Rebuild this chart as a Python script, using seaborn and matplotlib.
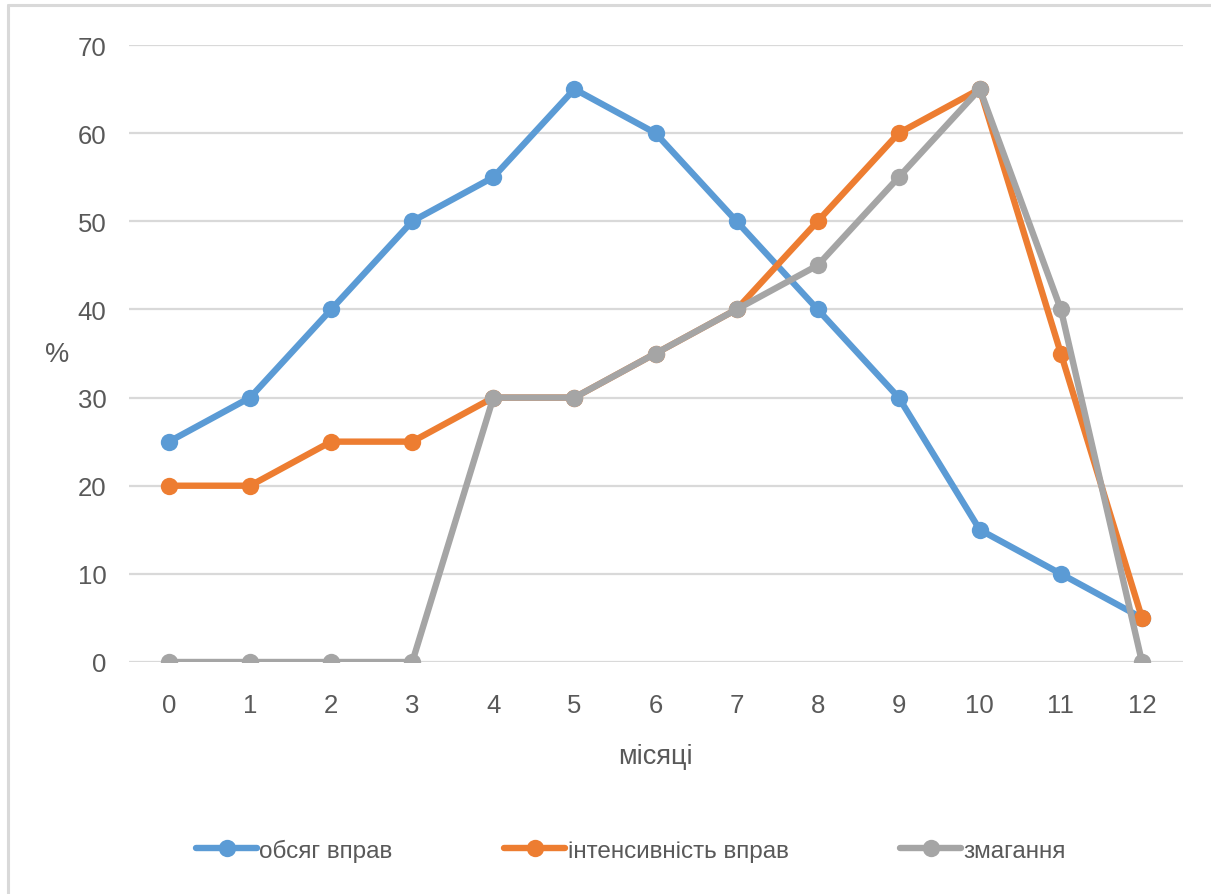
import matplotlib
matplotlib.use("Agg")
import matplotlib.pyplot as plt
from matplotlib.lines import Line2D
import seaborn as sns
import pandas as pd

months = list(range(13))
volume = [25, 30, 40, 50, 55, 65, 60, 50, 40, 30, 15, 10, 5]
intensity = [20, 20, 25, 25, 30, 30, 35, 40, 50, 60, 65, 35, 5]
competition = [0, 0, 0, 0, 30, 30, 35, 40, 45, 55, 65, 40, 0]
series_names = ["обсяг вправ", "інтенсивність вправ", "змагання"]
colors = ["#5B9BD5", "#ED7D31", "#A5A5A5"]

df = pd.concat([
    pd.DataFrame({"month": months, "value": vals, "series": name})
    for name, vals in zip(series_names, [volume, intensity, competition])
], ignore_index=True)

sns.set_theme(style="white")
plt.rcParams["font.family"] = ["Liberation Sans", "DejaVu Sans"]
text_color = "#595959"
lw, ms = 4.6, 12.5

fig = plt.figure(figsize=(12.11, 8.95), dpi=100)
ax = fig.add_axes([128.5 / 1211, 1 - 663 / 895, 1054 / 1211, 617 / 895])

sns.lineplot(data=df, x="month", y="value", hue="series", hue_order=series_names,
             palette=colors, marker="o", markersize=ms, markeredgewidth=0,
             linewidth=lw, ax=ax, legend=False, zorder=3)

ax.set_xlim(-0.5, 12.5)
ax.set_ylim(0, 70)
ax.set_xticks(months)
ax.set_xticklabels([str(m) for m in months])
ax.set_yticks(range(0, 71, 10))
ax.yaxis.grid(True, color="#D9D9D9", linewidth=1.6)
ax.xaxis.grid(False)
ax.set_axisbelow(True)
for s in ax.spines.values():
    s.set_visible(False)
ax.tick_params(axis="x", length=0, pad=22, labelsize=18.5, labelcolor=text_color)
ax.tick_params(axis="y", length=0, pad=16, labelsize=18.5, labelcolor=text_color)

ax.set_xlabel("місяці", fontsize=19.5, color=text_color, labelpad=19)
ax.set_ylabel("%", fontsize=19.5, color=text_color, rotation=0, va="center", ha="center")
ax.yaxis.set_label_coords(-71 / 1054, (663 - 355) / 617)

handles = [Line2D([0], [0], color=c, linewidth=lw, marker="o", markersize=ms,
                  markeredgewidth=0) for c in colors]
fig.legend(handles, series_names, loc="center", bbox_to_anchor=(631 / 1211, 1 - 851 / 895),
           ncol=3, frameon=False, fontsize=17.5, handlelength=2.5, handletextpad=0.1,
           columnspacing=4.6, labelcolor=text_color)

# outer frame of the chart area
border = "#D9D9D9"
fig.add_artist(Line2D([8 / 1211, 8 / 1211], [0, 1 - 6 / 895], color=border, linewidth=2.2,
                      transform=fig.transFigure))
fig.add_artist(Line2D([8 / 1211, 1], [1 - 6 / 895, 1 - 6 / 895], color=border, linewidth=2.2,
                      transform=fig.transFigure))

fig.savefig("out.png", dpi=100, facecolor="white")
